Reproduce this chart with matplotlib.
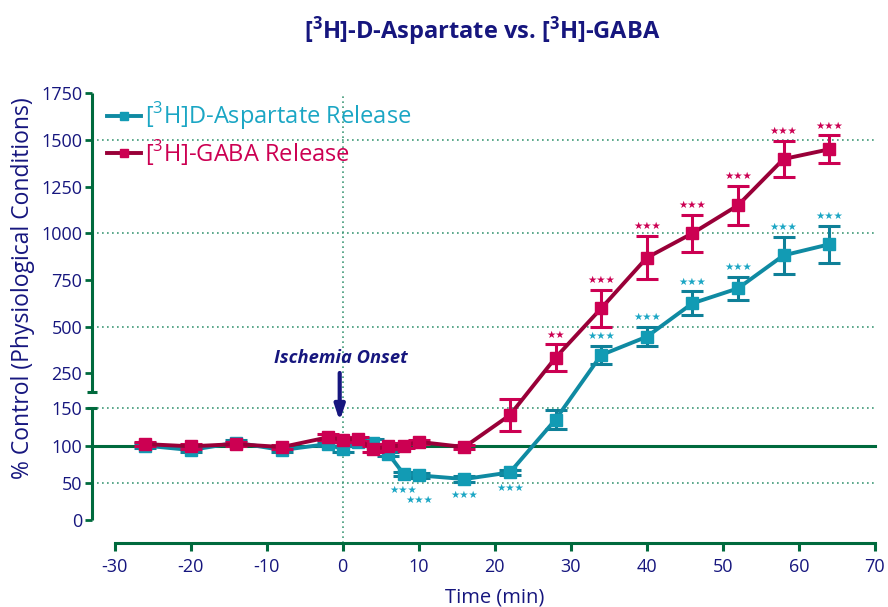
import numpy as np
import matplotlib.pyplot as plt
from matplotlib.lines import Line2D

plt.rcParams['font.family'] = ['Open Sans', 'DejaVu Sans']
plt.rcParams['axes.unicode_minus'] = False
plt.rcParams['mathtext.fontset'] = 'custom'
plt.rcParams['mathtext.rm'] = 'Open Sans'
plt.rcParams['mathtext.bf'] = 'Open Sans:bold'

# data (time in min, % of control)
time = [-26, -20, -14, -8, -2, 0, 2, 4, 6, 8, 10, 16, 22, 28, 34, 40, 46, 52, 58, 64]
asp = [100, 94, 104, 94, 102, 95, 105, 104, 89, 62, 60, 55, 64, 135, 348, 446, 625, 705, 882, 941]
asp_err = [3, 3, 3, 3, 3, 4, 3, 5, 3, 3, 3, 4, 3, 13, 50, 52, 65, 62, 100, 100]
asp_sig = ['', '', '', '', '', '', '', '', '', '***', '***', '***', '***', '',
           '***', '***', '***', '***', '***', '***']
gaba = [102, 99, 102, 98, 111, 108, 109, 95, 99, 100, 105, 98, 141, 334, 598, 869, 1000, 1150, 1398, 1450]
gaba_err = [3, 3, 3, 3, 4, 3, 3, 4, 3, 3, 3, 3, 21, 71, 100, 116, 100, 104, 97, 74]
gaba_sig = ['', '', '', '', '', '', '', '', '', '', '', '', '', '**',
            '***', '***', '***', '***', '***', '***']

yticks = [0, 50, 100, 150, 250, 500, 750, 1000, 1250, 1500, 1750]
xticks = list(range(-30, 71, 10))
grid_levels = [50, 150, 500, 1000, 1500]

navy = '#16167e'
green = '#006a3d'
grid_green = '#3f9a78'
teal_line, teal_mk, teal_err, teal_txt = '#0f8aa2', '#129bb4', '#0f8098', '#1ba6c4'
gaba_line, gaba_mk, gaba_txt = '#990038', '#cc0052', '#cc0052'


# broken y axis: 0-150 stretched, 250-1750 compressed
def fwd(y):
    y = np.asarray(y, dtype=float)
    return np.minimum(0.7444 * y, 100.0 + 0.1867 * y)


def inv(h):
    h = np.asarray(h, dtype=float)
    return np.maximum(h / 0.7444, (h - 100.0) / 0.1867)


fig = plt.figure(figsize=(8.88, 6.07), dpi=100)
ax = fig.add_axes([0.1292, 0.1433, 0.8559, 0.7030])
ax.set_yscale('function', functions=(fwd, inv))
ax.set_xlim(-30, 70)
ax.set_ylim(0, 1750)

for s in ['top', 'right']:
    ax.spines[s].set_visible(False)
ax.spines['left'].set_position(('outward', 16.5))
ax.spines['left'].set_visible(False)
ax.spines['bottom'].set_position(('outward', 16.3))
ax.spines['bottom'].set_color(green)
ax.spines['bottom'].set_linewidth(2.2)

st = ax.spines['left'].get_spine_transform()
# two pieces of the y axis
ax.plot([0, 0], [172.4, 1750], color=green, lw=2.2, transform=st, clip_on=False,
        solid_capstyle='butt')
ax.plot([0, 0], [0, 150], color=green, lw=2.2, transform=st, clip_on=False,
        solid_capstyle='butt')
ax.plot([0, 0], [172.4, 150], ls='none', marker='_', ms=7, mew=2.2, color=green,
        transform=st, clip_on=False)

ax.set_yticks(yticks)
ax.set_yticklabels([str(v) for v in yticks])
ax.set_xticks(xticks)
ax.set_xticklabels([str(v) for v in xticks])
ax.tick_params(axis='y', length=5, width=2, color=green, labelcolor=navy,
               labelsize=13, pad=2)
ax.tick_params(axis='x', length=6, width=2.2, color=green, labelcolor=navy,
               labelsize=13, pad=5)

# dotted grid + baseline
for g in grid_levels:
    ax.plot([0, 1.0303], [g, g], transform=st, color=grid_green, lw=1.2,
            ls=(0, (1, 2)), clip_on=False, zorder=1)
ax.plot([0, 1.0303], [100, 100], transform=st, color=green, lw=2.2,
        clip_on=False, zorder=1.5)
ax.plot([0, 0], [-0.0532, 1], transform=ax.get_xaxis_transform(), color=grid_green,
        lw=1.2, ls=(0, (1, 2)), clip_on=False, zorder=1)

# series
ax.errorbar(time, asp, yerr=asp_err, fmt='none', ecolor=teal_err, elinewidth=2.2,
            capsize=8, capthick=2.2, zorder=3)
ax.plot(time, asp, color=teal_line, lw=2.8, marker='s', ms=8, mfc=teal_mk,
        mec=teal_mk, zorder=4)
ax.errorbar(time, gaba, yerr=gaba_err, fmt='none', ecolor=gaba_mk, elinewidth=2.2,
            capsize=8, capthick=2.2, zorder=5)
ax.plot(time, gaba, color=gaba_line, lw=2.8, marker='s', ms=8, mfc=gaba_mk,
        mec=gaba_mk, zorder=6)

# significance stars
prev_below = None
for t, v, e, s in zip(time, asp, asp_err, asp_sig):
    if not s:
        continue
    stars = '\u2605' * len(s)
    if v < 100:
        off = -16
        if prev_below is not None and t - prev_below < 4:
            off = -25
        prev_below = t
        ax.annotate(stars, (t, v), xytext=(0, off * 0.72), textcoords='offset points',
                    ha='center', va='center', color=teal_txt, fontsize=7.5,
                    family='DejaVu Sans', zorder=7)
    else:
        ax.annotate(stars, (t, v + e), xytext=(0, 7), textcoords='offset points',
                    ha='center', va='center', color=teal_txt, fontsize=7.5,
                    family='DejaVu Sans', zorder=7)
for t, v, e, s in zip(time, gaba, gaba_err, gaba_sig):
    if s:
        ax.annotate('\u2605' * len(s), (t, v + e), xytext=(0, 7),
                    textcoords='offset points', ha='center', va='center',
                    color=gaba_txt, fontsize=7.5, family='DejaVu Sans', zorder=7)

# ischemia onset marker
ax.annotate('', xy=(-0.4, 133), xytext=(-0.4, 252),
            arrowprops=dict(arrowstyle='-|>,head_length=0.9,head_width=0.3',
                            color=navy, lw=3, shrinkA=0, shrinkB=0))
ax.text(-0.2, 332, 'Ischemia Onset', ha='center', va='center', color=navy,
        fontsize=13.2, fontweight='bold', style='italic')

# legend
h1 = Line2D([], [], color=teal_line, lw=2.8, marker='s', ms=6, mfc=teal_mk, mec=teal_mk)
h2 = Line2D([], [], color=gaba_line, lw=2.8, marker='s', ms=6, mfc=gaba_mk, mec=gaba_mk)
leg = ax.legend([h1, h2], ['[$^{3}$H]D-Aspartate Release', '[$^{3}$H]-GABA Release'],
                loc='upper left', bbox_to_anchor=(107 / 888, 1 - 100 / 607),
                bbox_transform=fig.transFigure, frameon=False, fontsize=17,
                handlelength=1.45, handletextpad=0.15, labelspacing=0.25,
                borderpad=0, borderaxespad=0)
for txt, c in zip(leg.get_texts(), [teal_txt, gaba_txt]):
    txt.set_color(c)

fig.text(482 / 888, 1 - 31 / 607, r'[$\mathbf{^{3}}$H]-D-Aspartate vs. [$\mathbf{^{3}}$H]-GABA',
         ha='center', va='center', color=navy, fontsize=17, fontweight='bold')
fig.text(22.7 / 888, 1 - 288 / 607, '% Control (Physiological Conditions)',
         rotation=90, ha='center', va='center', color=navy, fontsize=16.5)
fig.text(495 / 888, 1 - 597 / 607, 'Time (min)', ha='center', va='center',
         color=navy, fontsize=14.5)

fig.savefig('out.png', dpi=100)
